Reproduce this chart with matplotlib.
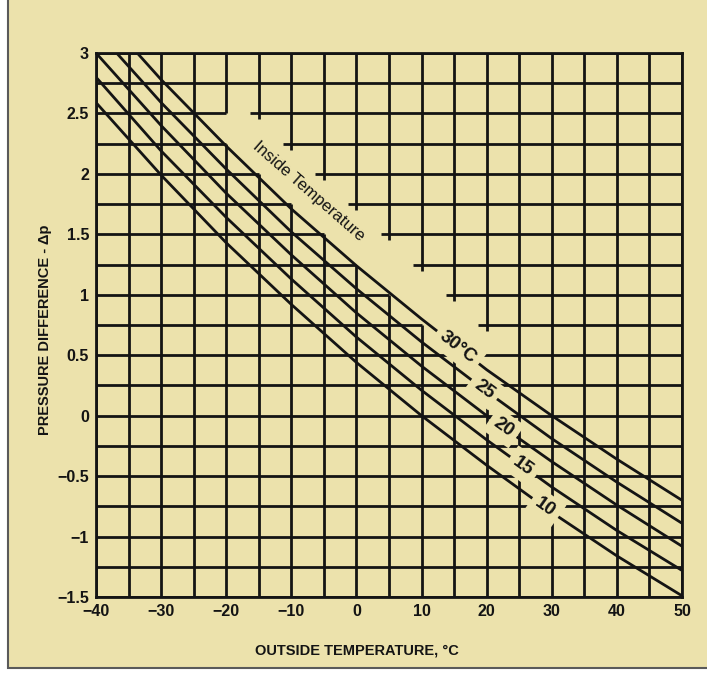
import numpy as np
import matplotlib.pyplot as plt
from matplotlib.patches import Rectangle

# outside temperature (deg C) at which the curves were read
outside_temp = [-40, -30, -20, -10, 0, 10, 20, 30, 40, 50]

# pressure difference
dp_10 = [2.59, 1.99, 1.43, 0.92, 0.44, 0.00, -0.41, -0.80, -1.16, -1.49]
dp_15 = [2.80, 2.19, 1.64, 1.13, 0.65, 0.21, -0.20, -0.59, -0.95, -1.28]
dp_20 = [3.00, 2.40, 1.84, 1.33, 0.85, 0.41, 0.00, -0.38, -0.74, -1.08]
dp_25 = [3.19, 2.59, 2.04, 1.52, 1.05, 0.61, 0.20, -0.19, -0.55, -0.89]
dp_30 = [3.38, 2.78, 2.23, 1.71, 1.24, 0.80, 0.38, 0.00, -0.36, -0.70]

curves = [dp_10, dp_15, dp_20, dp_25, dp_30]
curve_labels = ['10', '15', '20', '25', '30°C']
label_at = [29.0, 25.6, 22.6, 19.6, 15.6]  # outside temp where each label sits

x_ticks = [-40, -30, -20, -10, 0, 10, 20, 30, 40, 50]
x_ticklabels = ['\u221240', '\u221230', '\u221220', '\u221210', '0', '10', '20', '30', '40', '50']
y_ticks = [3, 2.5, 2, 1.5, 1, 0.5, 0, -0.5, -1, -1.5]
y_ticklabels = ['3', '2.5', '2', '1.5', '1', '0.5', '0', '\u22120.5', '\u22121', '\u22121.5']

paper = '#ECE2AC'
ink = '#141414'
plt.rcParams['font.family'] = ['Liberation Sans', 'DejaVu Sans']

fig = plt.figure(figsize=(7.07, 6.81), dpi=100, facecolor='white')
fig.patches.append(Rectangle((8 / 707, 13 / 681), 1.0, 1.0, transform=fig.transFigure,
                             facecolor=paper, edgecolor='#5a5a5a', lw=1.5, zorder=-10))
ax = fig.add_axes([96 / 707, 1 - 597 / 681, 586 / 707, 544 / 681])
ax.set_facecolor(paper)
ax.set_xlim(-40, 50)
ax.set_ylim(-1.5, 3)

# grid, with the blank diagonal band above the 30 degree curve
grid_kw = dict(color=ink, lw=2.0, zorder=1)
for gy in np.arange(-1.5, 3.01, 0.25):
    if 0.74 < gy < 2.51:
        edge = -15 + 20 * (2.0 - gy)
        ax.hlines(gy, -40, max(edge, -20), **grid_kw)
        ax.hlines(gy, edge + 8.7, 50, **grid_kw)
    else:
        ax.hlines(gy, -40, 50, **grid_kw)
for gx in np.arange(-40, 50.1, 5):
    if -21 < gx < 21:
        edge = 2.0 - (gx + 15) / 20
        ax.vlines(gx, -1.5, edge, **grid_kw)
        ax.vlines(gx, min(edge + 0.45, 2.5), 3, **grid_kw)
    else:
        ax.vlines(gx, -1.5, 3, **grid_kw)

for dp in curves:
    ax.plot(outside_temp, dp, color=ink, lw=2.0, zorder=2, solid_capstyle='butt')

def screen_angle(xs, ys, x0):
    p1 = ax.transData.transform((x0 - 2, np.interp(x0 - 2, xs, ys)))
    p2 = ax.transData.transform((x0 + 2, np.interp(x0 + 2, xs, ys)))
    return np.degrees(np.arctan2(p2[1] - p1[1], p2[0] - p1[0]))

for dp, lab, xl in zip(curves, curve_labels, label_at):
    yl = np.interp(xl, outside_temp, dp)
    ax.text(xl, yl, lab, rotation=screen_angle(outside_temp, dp, xl),
            rotation_mode='anchor', ha='center', va='center', fontsize=13.5,
            fontweight='bold', color=ink, zorder=4,
            bbox=dict(boxstyle='square,pad=0.3', fc=paper, ec='none'))

ax.text(-7.4, 1.86, 'Inside Temperature', rotation=screen_angle(outside_temp, dp_30, -7.4),
        rotation_mode='anchor', ha='center', va='center', fontsize=12,
        color=ink, zorder=4)

for s in ax.spines.values():
    s.set_linewidth(2.0)
    s.set_color(ink)
    s.set_zorder(3)

ax.set_xticks(x_ticks)
ax.set_xticklabels(x_ticklabels)
ax.set_yticks(y_ticks)
ax.set_yticklabels(y_ticklabels)
ax.tick_params(length=0, pad=5, labelsize=11.5, colors=ink)
for t in ax.get_xticklabels() + ax.get_yticklabels():
    t.set_fontweight('bold')

ax.set_xlabel('OUTSIDE TEMPERATURE, °C', fontsize=10.5, fontweight='bold', color=ink)
ax.xaxis.set_label_coords((357 - 96) / 586, -0.085)
ax.set_ylabel('PRESSURE DIFFERENCE - \u0394p', fontsize=10.5, fontweight='bold', color=ink)
ax.yaxis.set_label_coords(-0.075, (597 - 330) / 544)

fig.savefig('out.png', dpi=100, facecolor='white')
